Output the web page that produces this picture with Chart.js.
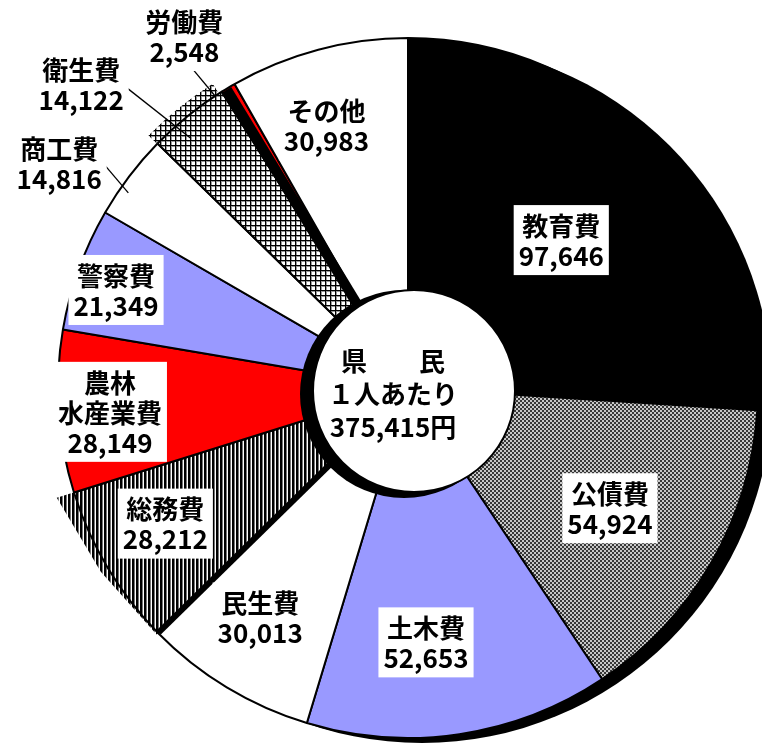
<!DOCTYPE html>
<html>
<head>
<meta charset="utf-8">
<script src="https://cdn.jsdelivr.net/npm/chart.js@4.4.0/dist/chart.umd.min.js"></script>
<style>
  html, body { margin: 0; padding: 0; background: #fff; }
  #wrap { width: 762px; height: 751px; }
</style>
</head>
<body>
<div id="wrap"><canvas id="pieChart"></canvas></div>
<script>
const categories = ['教育費', '公債費', '土木費', '民生費', '総務費', '農林水産業費', '警察費', '商工費', '衛生費', '労働費', 'その他'];
const labelLines = [['教育費'], ['公債費'], ['土木費'], ['民生費'], ['総務費'], ['農林', '水産業費'], ['警察費'], ['商工費'], ['衛生費'], ['労働費'], ['その他']];
const amounts = [97646, 54924, 52653, 30013, 28212, 28149, 21349, 14816, 14122, 2548, 30983];
const centerLines = ['県　　民', '１人あたり', '375,415円'];

// where each label sits: [shift from the slice's middle angle in degrees, distance from centre]
const labelPlace = [[-0.8, 213], [0.8, 235], [4.4, 255], [1.6, 273], [1.7, 278], [-0.7, 299], [-1.3, 308], [-4.4, 415], [-8.2, 446], [-1.5, 417], [-2.4, 275]];
// leader lines for the small slices: index -> [shift, r, shift, r]
const leaders = { 7: [-0.9, 376, -2.3, 341], 8: [-4.3, 416, -2.1, 331], 9: [-3.1, 385, -2.5, 349] };

const RAD = Math.PI / 180;
const canvas = document.getElementById('pieChart');
const ctx = canvas.getContext('2d');

function pattern(size, paint) {
  const c = document.createElement('canvas');
  c.width = size; c.height = size;
  paint(c.getContext('2d'));
  return ctx.createPattern(c, 'repeat');
}

const dots = pattern(4, p => {
  p.fillStyle = '#c8c8c8'; p.fillRect(0, 0, 4, 4);
  p.fillStyle = '#383838'; p.fillRect(0, 0, 2, 2); p.fillRect(2, 2, 2, 2);
});
const stripes = pattern(4, p => {
  p.fillStyle = '#fff'; p.fillRect(0, 0, 4, 4);
  p.fillStyle = '#000'; p.fillRect(0, 0, 2, 4);
  p.fillStyle = '#777'; p.fillRect(2, 0, 1, 4);
});
const grid = pattern(5, p => {
  p.fillStyle = '#fff'; p.fillRect(0, 0, 5, 5);
  p.fillStyle = '#999'; p.fillRect(0, 1, 5, 1); p.fillRect(1, 0, 1, 5);
  p.fillStyle = '#000'; p.fillRect(0, 0, 5, 1); p.fillRect(0, 0, 1, 5);
});

const fills = ['#000000', dots, '#9999ff', '#ffffff', stripes, '#ff0000', '#9999ff', '#ffffff', grid, '#ff0000', '#ffffff'];

function polar(arc, deg, r) {
  const a = (arc.startAngle + arc.endAngle) / 2 + deg * RAD;
  return [arc.x + r * Math.cos(a), arc.y + r * Math.sin(a)];
}
function at(x, y, a, r) {
  return [x + r * Math.cos(a), y + r * Math.sin(a)];
}

const shadowPlugin = {
  id: 'shadow',
  beforeDatasetsDraw(chart) {
    const arcs = chart.getDatasetMeta(0).data;
    const c = chart.ctx;
    const cx = arcs[0].x, cy = arcs[0].y, R = arcs[0].outerRadius;
    c.save();
    c.fillStyle = '#000';
    c.beginPath();
    c.arc(cx + 14, cy + 5, R, 0, Math.PI * 2);
    c.fill();

    // 総務費 hatching spilling past the rim
    const s = arcs[4];
    const mid = (s.startAngle + s.endAngle) / 2;
    c.fillStyle = stripes;
    c.beginPath();
    c.moveTo(cx, cy);
    c.lineTo(...at(cx, cy, s.endAngle, R + 18));
    c.lineTo(...at(cx, cy, mid, R + 8));
    c.lineTo(...at(cx, cy, s.startAngle, R + 2));
    c.closePath();
    c.fill();

    // 衛生費 grid slightly out of register
    const g = arcs[8];
    c.fillStyle = grid;
    c.beginPath();
    c.moveTo(cx - 9, cy - 8);
    c.arc(cx - 9, cy - 8, R, g.startAngle, g.endAngle);
    c.closePath();
    c.fill();
    c.restore();
  }
};

const decoPlugin = {
  id: 'deco',
  afterDatasetsDraw(chart) {
    const arcs = chart.getDatasetMeta(0).data;
    const c = chart.ctx;
    const cx = arcs[0].x, cy = arcs[0].y, R = arcs[0].outerRadius;
    c.save();

    // heavy black rules beside 労働費 and between 民生費/総務費
    function rule(angle, width, r0, r1) {
      c.strokeStyle = '#000';
      c.lineWidth = width;
      c.beginPath();
      c.moveTo(...at(cx, cy, angle, r0));
      c.lineTo(...at(cx, cy, angle, r1));
      c.stroke();
    }
    rule(arcs[9].startAngle + 0.9 * RAD, 10, 90, R - 1);
    rule(arcs[4].startAngle, 6, 90, R - 1);

    // centre hole
    const hx = cx + 6, hy = cy + 3, hr = 101;
    c.fillStyle = '#000';
    c.beginPath(); c.arc(hx - 10, hy + 3, hr + 3, 0, Math.PI * 2); c.fill();
    c.fillStyle = '#fff';
    c.beginPath(); c.arc(hx, hy, hr, 0, Math.PI * 2); c.fill();
    c.strokeStyle = '#000'; c.lineWidth = 2;
    c.beginPath(); c.arc(hx, hy, hr, 0, Math.PI * 2); c.stroke();

    c.font = 'bold 26px "Noto Sans CJK JP"';
    c.textAlign = 'center';
    c.textBaseline = 'middle';
    c.fillStyle = '#000';
    centerLines.forEach((t, i) => c.fillText(t, cx - 15, cy + 6 + (i - 1) * 33));

    // leader lines
    c.lineWidth = 1.3;
    Object.keys(leaders).forEach(k => {
      const [s0, r0, s1, r1] = leaders[k];
      const p0 = polar(arcs[k], s0, r0), p1 = polar(arcs[k], s1, r1);
      c.beginPath(); c.moveTo(p0[0], p0[1]); c.lineTo(p1[0], p1[1]); c.stroke();
    });

    // slice labels
    const lh = 30;
    arcs.forEach((arc, i) => {
      const lines = labelLines[i].concat([amounts[i].toLocaleString('en-US')]);
      const [x, y] = polar(arc, labelPlace[i][0], labelPlace[i][1]);
      const w = Math.max(...lines.map(t => c.measureText(t).width)) + 10;
      const h = lines.length * lh + 10;
      c.fillStyle = '#fff';
      c.fillRect(x - w / 2, y - h / 2, w, h);
      c.fillStyle = '#000';
      lines.forEach((t, j) => c.fillText(t, x, y + (j - (lines.length - 1) / 2) * lh + 1));
    });
    c.restore();
  }
};

new Chart(ctx, {
  type: 'doughnut',
  data: {
    labels: categories,
    datasets: [{
      data: amounts,
      backgroundColor: fills,
      borderColor: '#000',
      borderWidth: 2,
      hoverOffset: 0
    }]
  },
  options: {
    responsive: true,
    maintainAspectRatio: false,
    animation: false,
    events: [],
    cutout: 88,
    layout: { padding: { left: 57, top: 37, right: 3, bottom: 12 } },
    plugins: {
      legend: { display: false },
      tooltip: { enabled: false }
    }
  },
  plugins: [shadowPlugin, decoPlugin]
});
</script>
</body>
</html>
